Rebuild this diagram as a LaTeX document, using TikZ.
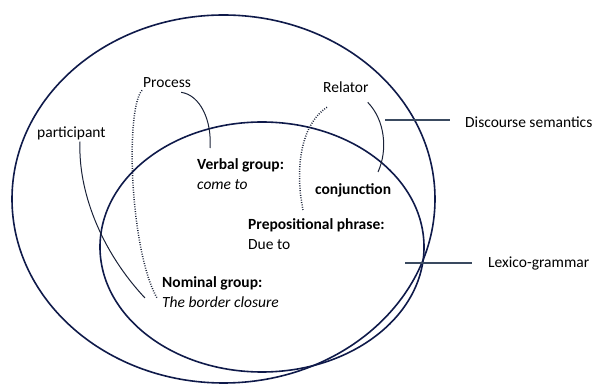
\documentclass[tikz,border=0pt]{standalone}
\usepackage{fontspec}
\setmainfont{Carlito}
\definecolor{navy}{HTML}{0F1A4A}
\definecolor{inkline}{HTML}{1A2238}
\definecolor{leader}{HTML}{3A4A60}

\begin{document}
\begin{tikzpicture}[x=1pt, y=-1pt,
  label text/.style={anchor=base west, inner sep=0pt, font=\fontsize{15.5}{19}\selectfont},
  stratum/.style={draw=navy, line width=1.6pt},
  link/.style={draw=inkline, line width=1pt},
  dotlink/.style={draw=inkline, line width=1.5pt, dash pattern=on 0.9pt off 1.5pt},
  leader line/.style={draw=leader, line width=1.1pt}]
\useasboundingbox (0,0) rectangle (595,387);

% strata
\draw[stratum] (223.5,199) ellipse [x radius=211.5pt, y radius=184pt];
\draw[stratum] (262,247) ellipse [x radius=162pt, y radius=125pt];

% labels
\node (process) [label text] at (143,88) {Process};
\node (participant) [label text] at (37,138) {participant};
\node (relator) [label text] at (323,93) {Relator};
\node (verbal) [label text] at (197,170) {\textbf{Verbal group:}};
\node (verbalex) [label text] at (197,190) {\textit{come to}};
\node (conj) [label text] at (315,195) {\textbf{conjunction}};
\node (prep) [label text] at (248,230) {\textbf{Prepositional phrase:}};
\node (prepex) [label text] at (248,250) {Due to};
\node (nominal) [label text] at (162,288) {\textbf{Nominal group:}};
\node (nominalex) [label text] at (162,308) {\textit{The border closure}};
\node (discourse) [label text] at (465,128) {Discourse semantics};
\node (lexico) [label text] at (488,268) {Lexico-grammar};

% free ends
\coordinate (verbalend) at (210,148);
\coordinate (nominalend1) at (145,298);
\coordinate (nominalend2) at (157,298);
\coordinate (conjend) at (378,172);
\coordinate (prepend) at (303,210);
\coordinate (discend) at (385,120);
\coordinate (lexend) at (405,263);

% links
\draw[link] ([xshift=-10pt,yshift=-4pt]process.south east) .. controls (200,95) and (212,120) .. (verbalend);
\draw[dotlink] ([xshift=-1pt,yshift=-2pt]process.south west) .. controls (125,110) and (130,250) .. (nominalend2);
\draw[link] ([xshift=43pt,yshift=-1pt]participant.south west) .. controls (78,190) and (100,250) .. (nominalend1);
\draw[link] ([xshift=-1pt,yshift=-9pt]relator.south east) .. controls (385,120) and (388,150) .. (conjend);
\draw[dotlink] ([xshift=4pt,yshift=-14pt]relator.south west) .. controls (300,125) and (295,170) .. (prepend);
\draw[leader line] (discend) -- ([xshift=-15pt]discend -| discourse.west);
\draw[leader line] (lexend) -- ([xshift=-16pt]lexend -| lexico.west);
\end{tikzpicture}
\end{document}
